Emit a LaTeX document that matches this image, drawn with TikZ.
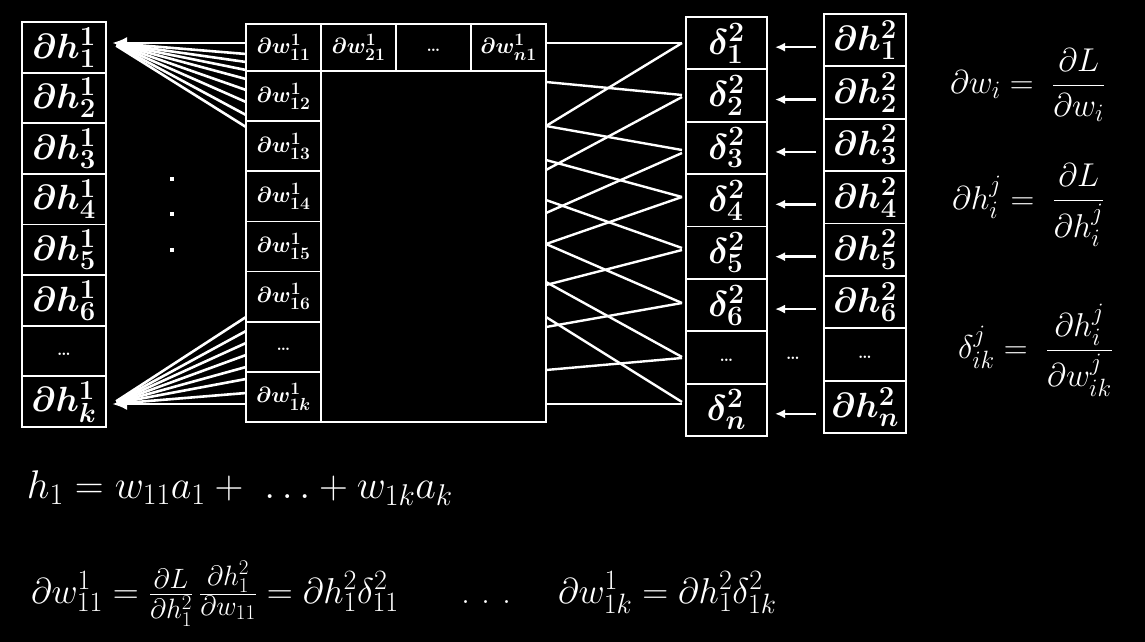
\RequirePackage{fix-cm}
\documentclass[tikz,border=0pt]{standalone}
\usepackage{amsmath}
\usepackage{bm}
\usetikzlibrary{arrows.meta}
\DeclareMathSizes{17}{17}{13}{10}
\DeclareMathSizes{22}{22}{17.5}{13}
\DeclareMathSizes{33}{33}{25}{19}
\DeclareMathSizes{35}{35}{27.5}{21}
\DeclareMathSizes{36}{36}{28}{21}
\DeclareMathSizes{40}{40}{30}{23}
\newcommand{\mydots}{\fontsize{17}{18}\selectfont\textbf{\ldots}}
\newcommand{\lowdots}{\raisebox{-4pt}[0pt][0pt]{\mydots}}
\begin{document}
\begin{tikzpicture}[x=1pt,y=-1pt,
  every node/.style={text=white,inner sep=0pt,outer sep=0pt},
  cellbox/.style={draw=white,line width=1.8pt},
  lbox/.style={cellbox,minimum width=84pt,minimum height=50.625pt,font=\fontsize{35}{38}\selectfont},
  wbox/.style={cellbox,minimum width=75pt,minimum height=#1,font=\fontsize{22}{24}\selectfont},
  dbox/.style={cellbox,minimum width=81pt,minimum height=52.375pt,font=\fontsize{36}{38}\selectfont},
  hbox/.style={cellbox,minimum width=82pt,minimum height=52.375pt,font=\fontsize{35}{38}\selectfont},
  fanline/.style={white,line width=2.6pt},
  xline/.style={white,line width=2.4pt},
  harrow/.style={white,line width=2.6pt,-{Latex[length=10pt,width=9pt]}},
  formula/.style={font=\fontsize{33}{36}\selectfont},
]
\fill[black] (0,0) rectangle (1145,642);
\useasboundingbox (0,0) rectangle (1145,642);

% left column dh^1
\foreach \t [count=\i] in {{$\bm{\partial h^1_1}$},{$\bm{\partial h^1_2}$},{$\bm{\partial h^1_3}$},{$\bm{\partial h^1_4}$},{$\bm{\partial h^1_5}$},{$\bm{\partial h^1_6}$},{\lowdots},{$\bm{\partial h^1_k}$}}
  \node[lbox] (L\i) at (64,{22+(\i-0.5)*50.625}) {\t};

% matrix
\node[draw=white,line width=1.8pt,minimum width=300pt,minimum height=398pt] (mat) at (396,223) {};
\foreach \t [count=\i] in {{$\bm{\partial w^1_{11}}$},{$\bm{\partial w^1_{21}}$},{\lowdots},{$\bm{\partial w^1_{n1}}$}}
  \node[wbox=47pt] (T\i) at ({246+(\i-0.5)*75},47.5) {\t};
\foreach \t [count=\i] in {{$\bm{\partial w^1_{12}}$},{$\bm{\partial w^1_{13}}$},{$\bm{\partial w^1_{14}}$},{$\bm{\partial w^1_{15}}$},{$\bm{\partial w^1_{16}}$},{\lowdots},{$\bm{\partial w^1_{1k}}$}}
  \node[wbox=50.143pt] (C\i) at (283.5,{71+(\i-0.5)*50.143}) {\t};

% delta column
\foreach \t [count=\i] in {{$\bm{\delta^2_1}$},{$\bm{\delta^2_2}$},{$\bm{\delta^2_3}$},{$\bm{\delta^2_4}$},{$\bm{\delta^2_5}$},{$\bm{\delta^2_6}$},{\lowdots},{$\bm{\delta^2_n}$}}
  \node[dbox] (D\i) at (726.5,{17+(\i-0.5)*52.375}) {\t};

% dh^2 column
\foreach \t [count=\i] in {{$\bm{\partial h^2_1}$},{$\bm{\partial h^2_2}$},{$\bm{\partial h^2_3}$},{$\bm{\partial h^2_4}$},{$\bm{\partial h^2_5}$},{$\bm{\partial h^2_6}$},{\lowdots},{$\bm{\partial h^2_n}$}}
  \node[hbox] (H\i) at (865,{14+(\i-0.5)*52.375}) {\t};

% arrows dh^2 -> delta
\foreach \i in {1,2,3,4,5,6,8} {
  \coordinate (ha\i) at ([xshift=-8pt,yshift=-7pt]H\i.west);
  \draw[harrow,shorten >=8pt] (ha\i) -- (ha\i -| D\i.east);
}
\node (mdots) at (793,358) {\mydots};

% fans to left column
\coordinate (tipA) at (112,43);
\coordinate (tipB) at (112,404);
\foreach \y [count=\n] in {43,54,62,70,79,90,102,115,127} {
  \coordinate (fa\n) at (246,\y);
}
\draw[fanline,-{Latex[length=15pt,width=12pt]}] (fa1) -- (tipA);
\foreach \n in {2,...,9} \draw[fanline,shorten >=5pt] (fa\n) -- (tipA);
\foreach \y [count=\n] in {404,393,379,367,355,343,331,317} {
  \coordinate (fb\n) at (246,\y);
}
\draw[fanline,-{Latex[length=15pt,width=12pt]}] (fb1) -- (tipB);
\foreach \n in {2,...,8} \draw[fanline,shorten >=5pt] (fb\n) -- (tipB);

% vertical dots
\foreach \y [count=\n] in {179,214,250}
  \node[fill=white,minimum size=4.5pt] (vd\n) at (172,\y) {};

% crossing lines matrix -> delta
\foreach \a/\b [count=\n] in {43/43,126/43,82/95,170/97,126/150,213/153,160/197,244/197,200/248,244/303,285/250,282/357,327/303,317/402,370/358,404/404} {
  \coordinate (xm\n) at (546,\a);
  \coordinate (xd\n) at (682,\b);
  \draw[xline] (xm\n) -- (xd\n);
}

% right formulas
\node[formula,anchor=west] (f1) at (950,85) {$\partial w_i =\; \dfrac{\partial L}{\partial w_i}$};
\node[formula,anchor=west] (f2) at (952,205) {$\partial h^j_i =\; \dfrac{\partial L}{\partial h^j_i}$};
\node[formula,anchor=west] (f3) at (958,350) {$\delta^j_{ik} =\; \dfrac{\partial h^j_i}{\partial w^j_{ik}}$};

% bottom formulas
\node[anchor=base west,font=\fontsize{40}{44}\selectfont] (e1) at (27,498) {$h_1 = w_{11}a_1 +\ \ldots + w_{1k}a_k$};
\node[anchor=base west,font=\fontsize{36}{40}\selectfont] (e2) at (31,603) {$\partial w^1_{11} = \frac{\partial L}{\partial h^2_1}\,\frac{\partial h^2_1}{\partial w_{11}} = \partial h^2_1\delta^2_{11}$};
\node[anchor=base west,font=\fontsize{36}{40}\selectfont] (e3) at (461,603) {.\hspace{12pt}.\hspace{12pt}.};
\node[anchor=base west,font=\fontsize{36}{40}\selectfont] (e4) at (558,603) {$\partial w^1_{1k} = \partial h^2_1\delta^2_{1k}$};
\end{tikzpicture}
\end{document}
